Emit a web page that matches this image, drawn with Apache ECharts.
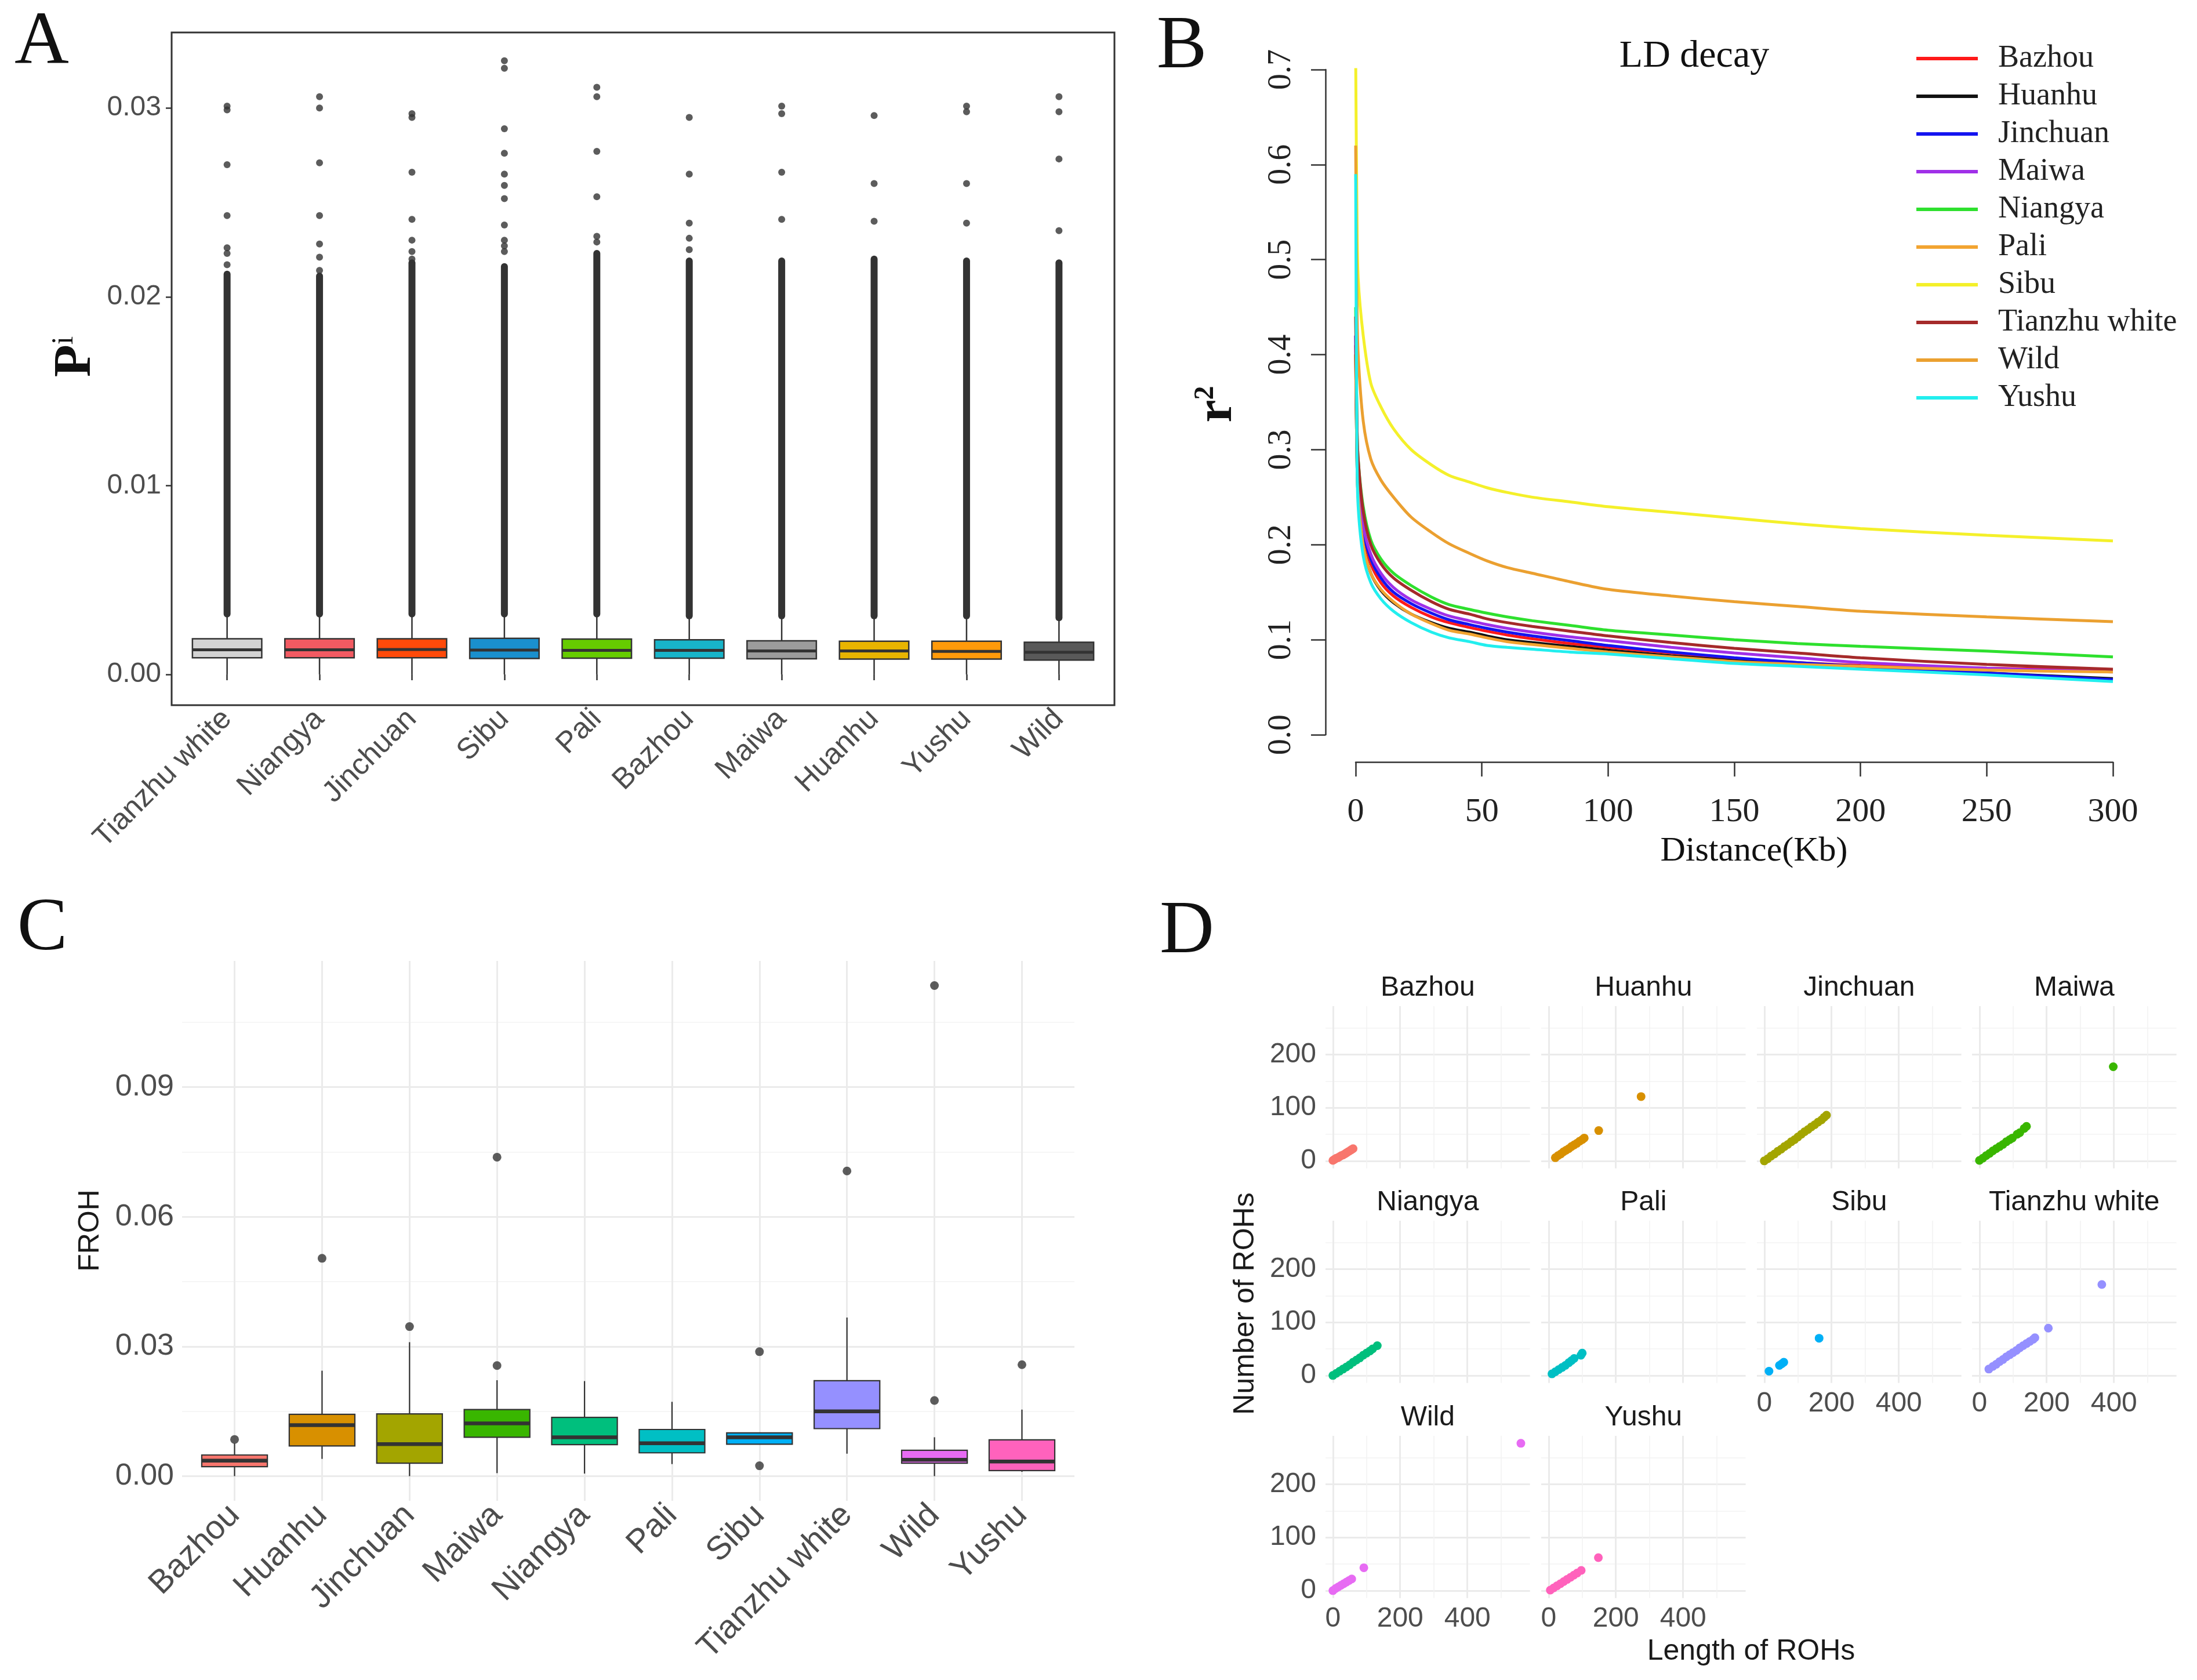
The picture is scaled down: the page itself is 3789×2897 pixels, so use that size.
<!DOCTYPE html>
<html>
<head>
<meta charset="utf-8">
<script src="https://cdn.jsdelivr.net/npm/echarts@6/dist/echarts.min.js"></script>
<style>
  html, body { margin: 0; padding: 0; background: #fff; }
  #main { width: 3789px; height: 2897px; }
</style>
</head>
<body>
<div id="main"></div>
<script>
// panel A - Pi boxplots
var catsA = ['Tianzhu white', 'Niangya', 'Jinchuan', 'Sibu', 'Pali', 'Bazhou', 'Maiwa', 'Huanhu', 'Yushu', 'Wild'];
var colorsA = ['#D3D3D3', '#F25A62', '#FF4A0A', '#1A90CE', '#66CC00', '#18B4C9', '#9C9C9C', '#E8B400', '#FF9A0A', '#595959'];
var piLow = [0, 0, 0, 0, 0, 0, 0, 0, 0, 0];
var piQ1 = [0.00088, 0.00088, 0.00088, 0.00084, 0.00086, 0.00086, 0.00083, 0.00081, 0.00081, 0.00076];
var piMed = [0.00130, 0.00130, 0.00132, 0.00129, 0.00127, 0.00127, 0.00124, 0.00124, 0.00122, 0.00117];
var piQ3 = [0.00189, 0.00189, 0.00189, 0.00191, 0.00187, 0.00183, 0.00178, 0.00176, 0.00176, 0.00170];
var piHigh = [0.0032, 0.0032, 0.0032, 0.0032, 0.0032, 0.0031, 0.0031, 0.0031, 0.0031, 0.0030];
var piDenseTop = [0.0212, 0.0211, 0.0218, 0.0216, 0.0223, 0.0219, 0.0219, 0.0220, 0.0219, 0.0218];
var piOutliers = [
  [0.0301, 0.0299, 0.0270, 0.0243, 0.0226, 0.0223, 0.0217],
  [0.0306, 0.0300, 0.0271, 0.0243, 0.0228, 0.0221, 0.0214],
  [0.0297, 0.0295, 0.0266, 0.0241, 0.0230, 0.0224, 0.0220],
  [0.0325, 0.0321, 0.0289, 0.0276, 0.0265, 0.0259, 0.0252, 0.0238, 0.0230, 0.0227, 0.0224],
  [0.0311, 0.0306, 0.0277, 0.0253, 0.0232, 0.0229],
  [0.0295, 0.0265, 0.0239, 0.0231, 0.0225],
  [0.0301, 0.0297, 0.0266, 0.0241],
  [0.0296, 0.0260, 0.0240],
  [0.0301, 0.0298, 0.0260, 0.0239],
  [0.0306, 0.0298, 0.0273, 0.0235]
];
var piTicks = [0, 0.01, 0.02, 0.03];

// panel B - LD decay
var ldNames = ['Bazhou', 'Huanhu', 'Jinchuan', 'Maiwa', 'Niangya', 'Pali', 'Sibu', 'Tianzhu white', 'Wild', 'Yushu'];
var ldColors = ['#FF1A1A', '#111111', '#1414F0', '#A030E8', '#2EE02E', '#F2A431', '#F4F02A', '#A52A2A', '#EBA030', '#22EEEE'];
var ldDist = [0, 0.5, 1, 3, 6, 10, 15, 22, 30, 37, 45, 52, 60, 70, 85, 100, 125, 150, 175, 200, 250, 300];
var ldBazhou = [0.41, 0.30, 0.26, 0.21, 0.18, 0.160, 0.146, 0.134, 0.124, 0.118, 0.113, 0.109, 0.105, 0.101, 0.096, 0.092, 0.086, 0.080, 0.076, 0.073, 0.070, 0.068];
var ldHuanhu = [0.40, 0.29, 0.25, 0.20, 0.17, 0.152, 0.139, 0.127, 0.118, 0.112, 0.108, 0.104, 0.100, 0.097, 0.093, 0.089, 0.083, 0.078, 0.074, 0.070, 0.065, 0.059];
var ldJinchuan = [0.42, 0.31, 0.27, 0.215, 0.185, 0.165, 0.150, 0.138, 0.128, 0.121, 0.116, 0.112, 0.108, 0.104, 0.099, 0.094, 0.087, 0.081, 0.076, 0.072, 0.065, 0.058];
var ldMaiwa = [0.42, 0.31, 0.27, 0.22, 0.19, 0.170, 0.155, 0.142, 0.132, 0.125, 0.120, 0.116, 0.112, 0.108, 0.103, 0.099, 0.092, 0.086, 0.081, 0.076, 0.070, 0.066];
var ldNiangya = [0.45, 0.33, 0.29, 0.24, 0.205, 0.185, 0.170, 0.157, 0.145, 0.137, 0.132, 0.128, 0.124, 0.120, 0.115, 0.110, 0.105, 0.100, 0.096, 0.093, 0.088, 0.082];
var ldPali = [0.40, 0.29, 0.25, 0.20, 0.17, 0.153, 0.140, 0.127, 0.117, 0.110, 0.106, 0.102, 0.098, 0.095, 0.091, 0.087, 0.082, 0.077, 0.074, 0.072, 0.068, 0.066];
var ldSibu = [0.715, 0.55, 0.48, 0.42, 0.37, 0.345, 0.322, 0.300, 0.284, 0.273, 0.266, 0.260, 0.255, 0.250, 0.245, 0.240, 0.234, 0.228, 0.222, 0.217, 0.210, 0.204];
var ldTianzhu = [0.44, 0.33, 0.29, 0.235, 0.20, 0.180, 0.165, 0.152, 0.140, 0.132, 0.127, 0.122, 0.118, 0.114, 0.109, 0.104, 0.097, 0.091, 0.086, 0.081, 0.074, 0.069];
var ldWild = [0.62, 0.46, 0.40, 0.33, 0.29, 0.268, 0.250, 0.229, 0.213, 0.201, 0.191, 0.183, 0.176, 0.170, 0.161, 0.153, 0.146, 0.140, 0.135, 0.130, 0.124, 0.119];
var ldYushu = [0.59, 0.30, 0.24, 0.188, 0.160, 0.143, 0.130, 0.118, 0.108, 0.102, 0.098, 0.094, 0.092, 0.090, 0.087, 0.085, 0.080, 0.075, 0.072, 0.069, 0.063, 0.056];
var ldValues = [ldBazhou, ldHuanhu, ldJinchuan, ldMaiwa, ldNiangya, ldPali, ldSibu, ldTianzhu, ldWild, ldYushu];

// panel C - FROH boxplots
var catsC = ['Bazhou', 'Huanhu', 'Jinchuan', 'Maiwa', 'Niangya', 'Pali', 'Sibu', 'Tianzhu white', 'Wild', 'Yushu'];
var colorsC = ['#F8766D', '#D89000', '#A3A500', '#39B600', '#00BF7D', '#00BFC4', '#00B0F6', '#9590FF', '#E76BF3', '#FF62BC'];
var frohLow = [0.0, 0.0040, 0.0, 0.0007, 0.0006, 0.0028, 0.0074, 0.0052, 0.0, 0.0010];
var frohQ1 = [0.0022, 0.0070, 0.0030, 0.0090, 0.0073, 0.0054, 0.0074, 0.0110, 0.0030, 0.0013];
var frohMed = [0.0036, 0.0118, 0.0074, 0.0122, 0.0090, 0.0076, 0.0090, 0.0150, 0.0038, 0.0034];
var frohQ3 = [0.0049, 0.0143, 0.0144, 0.0154, 0.0136, 0.0108, 0.0100, 0.0221, 0.0060, 0.0084];
var frohHigh = [0.0076, 0.0244, 0.0310, 0.0222, 0.0220, 0.0172, 0.0100, 0.0367, 0.0090, 0.0154];
var frohOut = [[0.0085], [0.0504], [0.0346], [0.0256, 0.0738], [], [], [0.0288, 0.0024], [0.0706], [0.0175, 0.1135], [0.0258]];
var frohTicks = [0, 0.03, 0.06, 0.09];
var frohMinor = [0.015, 0.045, 0.075, 0.105];

// panel D - ROH length vs number
var rohNames = ['Bazhou', 'Huanhu', 'Jinchuan', 'Maiwa', 'Niangya', 'Pali', 'Sibu', 'Tianzhu white', 'Wild', 'Yushu'];
var rohBazhou = [[0, 1], [5, 3], [10, 5], [15, 6], [20, 8], [25, 10], [30, 11], [35, 13], [40, 15], [45, 17], [50, 19], [55, 21], [60, 23]];
var rohHuanhu = [[20, 6], [28, 10], [36, 13], [44, 17], [52, 20], [60, 23], [68, 27], [76, 30], [84, 33], [92, 37], [100, 40], [106, 43], [149, 57], [275, 121]];
var rohJinchuan = [[0, 0], [10, 4], [20, 9], [30, 13], [40, 18], [50, 22], [60, 27], [70, 31], [80, 36], [90, 40], [100, 45], [110, 50], [120, 55], [130, 59], [140, 64], [150, 68], [160, 73], [170, 77], [178, 82], [185, 86]];
var rohMaiwa = [[0, 1], [10, 5], [20, 10], [30, 14], [40, 19], [50, 23], [60, 27], [70, 31], [80, 36], [90, 40], [98, 43], [112, 50], [120, 53], [133, 61], [140, 65], [398, 177]];
var rohNiangya = [[0, 0], [10, 4], [20, 8], [30, 12], [40, 16], [50, 20], [60, 25], [70, 29], [80, 33], [90, 38], [100, 42], [110, 46], [118, 50], [132, 56]];
var rohPali = [[10, 3], [20, 7], [30, 11], [40, 15], [50, 19], [60, 24], [68, 28], [76, 32], [96, 38], [100, 42]];
var rohSibu = [[14, 8], [45, 19], [52, 22], [58, 25], [163, 70]];
var rohTianzhu = [[28, 12], [40, 17], [50, 21], [60, 26], [70, 30], [80, 35], [90, 39], [100, 43], [110, 47], [120, 52], [130, 56], [140, 60], [150, 64], [160, 68], [165, 71], [205, 89], [364, 171]];
var rohWild = [[0, 0], [8, 4], [16, 7], [24, 10], [32, 13], [40, 16], [48, 19], [56, 22], [92, 43], [559, 277]];
var rohYushu = [[5, 1], [15, 5], [25, 9], [35, 13], [45, 17], [55, 21], [65, 25], [75, 29], [85, 33], [97, 38], [148, 62]];
var rohData = [rohBazhou, rohHuanhu, rohJinchuan, rohMaiwa, rohNiangya, rohPali, rohSibu, rohTianzhu, rohWild, rohYushu];
var rohXTicks = [0, 200, 400];
var rohXMinor = [100, 300, 500];
var rohYTicks = [0, 100, 200];
var rohYMinor = [50, 150, 250];

var SANS = 'Liberation Sans';
var SERIF = 'Liberation Serif';
var idx10 = [1, 2, 3, 4, 5, 6, 7, 8, 9, 10];

var chart = echarts.init(document.getElementById('main'), null, { renderer: 'canvas' });

function boxItem(lowArr, q1Arr, medArr, q3Arr, highArr, colors) {
  return idx10.map(function (x, i) {
    return { value: [x, lowArr[i], q1Arr[i], medArr[i], q3Arr[i], highArr[i]], itemStyle: { color: colors[i] } };
  });
}

function boxRender(lw, medLw) {
  return function (params, api) {
    var x = api.value(0);
    var lo = api.coord([x, api.value(1)]);
    var q1 = api.coord([x, api.value(2)]);
    var md = api.coord([x, api.value(3)]);
    var q3 = api.coord([x, api.value(4)]);
    var hi = api.coord([x, api.value(5)]);
    var half = api.size([0.75, 0])[0] / 2;
    var stroke = '#333333';
    return {
      type: 'group',
      children: [
        { type: 'line', shape: { x1: lo[0], y1: lo[1], x2: q1[0], y2: q1[1] }, style: { stroke: stroke, lineWidth: lw } },
        { type: 'line', shape: { x1: q3[0], y1: q3[1], x2: hi[0], y2: hi[1] }, style: { stroke: stroke, lineWidth: lw } },
        { type: 'rect', shape: { x: q1[0] - half, y: q3[1], width: half * 2, height: q1[1] - q3[1] },
          style: { fill: api.visual('color'), stroke: stroke, lineWidth: lw } },
        { type: 'line', shape: { x1: md[0] - half, y1: md[1], x2: md[0] + half, y2: md[1] }, style: { stroke: stroke, lineWidth: medLw } }
      ]
    };
  };
}

// grids: 0 A frame, 1 B data, 2 B y-axis strip, 3 B x-axis strip, 4 C, 5.. D facets
var grids = [
  { left: 296, top: 56, width: 1626, height: 1160, show: true, borderColor: '#333', borderWidth: 3 },
  { left: 2338, top: 120, width: 1306, height: 1147 },
  { left: 2286, top: 120, width: 8, height: 1147 },
  { left: 2338, top: 1306, width: 1306, height: 8 },
  { left: 314, top: 1657, width: 1539, height: 931 }
];
var facetLeft = [2286, 2658, 3030, 3401];
var facetTop = [1735, 2105, 2476];
var facetW = 352.6, facetH = 279.7;
rohNames.forEach(function (n, i) {
  grids.push({ left: facetLeft[i % 4], top: facetTop[Math.floor(i / 4)], width: facetW, height: facetH });
});

var tickLine = { color: '#333', width: 2.5 };
var gridMajor = { color: '#EBEBEB', width: 3 };
var gridMinor = { color: '#F3F3F3', width: 1.6 };
var hidden = { show: false };
var baseAxis = { '0': 1 };

function hiddenAxis(g, min, max) {
  return { gridIndex: g, type: 'value', min: min, max: max, show: false, splitLine: hidden };
}

var xAxes = [
  {
    gridIndex: 0, type: 'value', min: 0.4, max: 10.6,
    axisLine: hidden,
    axisTick: { show: true, customValues: idx10, length: 10, lineStyle: tickLine },
    axisLabel: { customValues: idx10, formatter: function (v) { return catsA[Math.round(v) - 1]; },
      rotate: 45, margin: 16, fontSize: 51, color: '#4D4D4D', fontFamily: SANS },
    splitLine: hidden
  },
  hiddenAxis(1, 0, 300),
  hiddenAxis(2, 0, 1),
  {
    gridIndex: 3, type: 'value', min: 0, max: 300, interval: 50,
    axisLine: { show: true, lineStyle: { color: '#333', width: 2.5 } },
    axisTick: { show: true, length: 25, lineStyle: { color: '#333', width: 2.5 } },
    axisLabel: { margin: 58, fontSize: 58, color: '#222', fontFamily: SERIF },
    splitLine: hidden
  },
  {
    gridIndex: 4, type: 'value', min: 0.4, max: 10.6,
    axisLine: hidden,
    axisTick: { show: false, customValues: idx10 },
    axisLabel: { customValues: idx10, formatter: function (v) { return catsC[Math.round(v) - 1]; },
      rotate: 45, margin: 16, fontSize: 57, color: '#4D4D4D', fontFamily: SANS },
    splitLine: { show: true, lineStyle: gridMajor }
  }
];
var yAxes = [
  {
    gridIndex: 0, type: 'value', min: -0.00163, max: 0.034,
    axisLine: hidden,
    axisTick: { show: true, customValues: piTicks, length: 10, lineStyle: tickLine },
    axisLabel: { customValues: piTicks, formatter: function (v) { return v.toFixed(2); },
      margin: 18, fontSize: 48, color: '#4D4D4D', fontFamily: SANS },
    splitLine: hidden
  },
  hiddenAxis(1, 0, 0.7),
  {
    gridIndex: 2, type: 'value', min: 0, max: 0.7, interval: 0.1,
    axisLine: { show: true, lineStyle: { color: '#333', width: 2.5 } },
    axisTick: { show: true, length: 25, lineStyle: { color: '#333', width: 2.5 } },
    axisLabel: { rotate: 90, margin: 48, fontSize: 56, color: '#222', fontFamily: SERIF,
      formatter: function (v) { return v.toFixed(1); } },
    splitLine: hidden
  },
  hiddenAxis(3, 0, 1),
  {
    gridIndex: 4, type: 'value', min: -0.0057, max: 0.1192,
    axisLine: hidden,
    axisTick: { show: false, customValues: frohTicks },
    axisLabel: { customValues: frohTicks, formatter: function (v) { return v.toFixed(2); },
      margin: 14, fontSize: 52, color: '#4D4D4D', fontFamily: SANS },
    splitLine: { show: true, lineStyle: gridMajor }
  },
  {
    gridIndex: 4, type: 'value', position: 'right', min: -0.0057, max: 0.1192,
    axisLine: hidden,
    axisTick: { show: false, customValues: frohMinor },
    axisLabel: hidden,
    splitLine: { show: true, lineStyle: gridMinor }
  }
];

var series = [];

// A: dense outlier column, boxes, sparse outliers
series.push({
  type: 'custom', xAxisIndex: 0, yAxisIndex: 0, z: 3,
  renderItem: function (params, api) {
    var x = api.value(0);
    var a = api.coord([x, api.value(2)]);
    var b = api.coord([x, api.value(1)]);
    return { type: 'rect', shape: { x: a[0] - 6, y: a[1] - 6, width: 12, height: b[1] - a[1] + 12, r: 6 },
      style: { fill: '#333333' } };
  },
  encode: { x: 0, y: [1, 2] },
  data: idx10.map(function (x, i) { return [x, piHigh[i], piDenseTop[i]]; })
});
series.push({
  type: 'custom', xAxisIndex: 0, yAxisIndex: 0, z: 4,
  renderItem: boxRender(2.5, 5),
  encode: { x: 0, y: [1, 2, 3, 4, 5] },
  data: boxItem(piLow, piQ1, piMed, piQ3, piHigh, colorsA)
});
var piPts = [];
piOutliers.forEach(function (arr, i) { arr.forEach(function (v) { piPts.push([i + 1, v]); }); });
series.push({
  type: 'scatter', xAxisIndex: 0, yAxisIndex: 0, symbolSize: 12, z: 3,
  itemStyle: { color: '#333333' }, data: piPts
});

// B
ldNames.forEach(function (name, i) {
  series.push({
    name: name, type: 'line', xAxisIndex: 1, yAxisIndex: 1,
    smooth: 0.3, showSymbol: false, symbol: 'none',
    lineStyle: { color: ldColors[i], width: 5 }, itemStyle: { color: ldColors[i] },
    data: ldDist.map(function (d, k) { return [d, ldValues[i][k]]; })
  });
});

// C
series.push({
  type: 'custom', xAxisIndex: 4, yAxisIndex: 4, z: 4,
  renderItem: boxRender(2.2, 6.5),
  encode: { x: 0, y: [1, 2, 3, 4, 5] },
  data: boxItem(frohLow, frohQ1, frohMed, frohQ3, frohHigh, colorsC)
});
var frohPts = [];
frohOut.forEach(function (arr, i) { arr.forEach(function (v) { frohPts.push([i + 1, v]); }); });
series.push({
  type: 'scatter', xAxisIndex: 4, yAxisIndex: 4, symbolSize: 15, z: 5,
  itemStyle: { color: '#333333' }, data: frohPts
});

// D facets
var graphics = [];
rohNames.forEach(function (name, i) {
  var g = 5 + i;
  var col = i % 4, row = Math.floor(i / 4);
  var showX = (i >= 6);
  var showY = (col === 0);
  var xi = xAxes.length, yi = yAxes.length;
  xAxes.push({
    gridIndex: g, type: 'value', min: -22, max: 586,
    axisLine: hidden,
    axisTick: { show: false, customValues: rohXTicks },
    axisLabel: { show: showX, customValues: rohXTicks, margin: 12, fontSize: 48, color: '#4D4D4D', fontFamily: SANS },
    splitLine: { show: true, lineStyle: gridMajor }
  });
  xAxes.push({
    gridIndex: g, type: 'value', position: 'top', min: -22, max: 586,
    axisLine: hidden,
    axisTick: { show: false, customValues: rohXMinor },
    axisLabel: hidden,
    splitLine: { show: true, lineStyle: gridMinor }
  });
  yAxes.push({
    gridIndex: g, type: 'value', min: -14, max: 291,
    axisLine: hidden,
    axisTick: { show: false, customValues: rohYTicks },
    axisLabel: { show: showY, customValues: rohYTicks, margin: 16, fontSize: 48, color: '#4D4D4D', fontFamily: SANS },
    splitLine: { show: true, lineStyle: gridMajor }
  });
  yAxes.push({
    gridIndex: g, type: 'value', position: 'right', min: -14, max: 291,
    axisLine: hidden,
    axisTick: { show: false, customValues: rohYMinor },
    axisLabel: hidden,
    splitLine: { show: true, lineStyle: gridMinor }
  });
  series.push({
    type: 'scatter', xAxisIndex: xi, yAxisIndex: yi, symbolSize: 15, z: 5,
    itemStyle: { color: colorsC[i], opacity: 1 }, data: rohData[i]
  });
  graphics.push({
    type: 'text', x: facetLeft[col] + facetW / 2, y: facetTop[row] - 31,
    style: { text: name, font: '48px "' + SANS + '"', fill: '#1A1A1A', align: 'center', verticalAlign: 'middle',
      textAlign: 'center', textVerticalAlign: 'middle' }
  });
});

function label(x, y, text, font, rot, fill) {
  return {
    type: 'text', x: x, y: y, rotation: rot || 0,
    style: { text: text, font: font, fill: fill || '#111', align: 'center', verticalAlign: 'middle',
      textAlign: 'center', textVerticalAlign: 'middle' }
  };
}
graphics.push(label(72, 75, 'A', '130px "' + SERIF + '"'));
graphics.push(label(2038, 82, 'B', '130px "' + SERIF + '"'));
graphics.push(label(73, 1603, 'C', '130px "' + SERIF + '"'));
graphics.push(label(2047, 1608, 'D', '130px "' + SERIF + '"'));
graphics.push(label(2922, 98, 'LD decay', '66px "' + SERIF + '"'));
graphics.push(label(3025, 1468, 'Distance(Kb)', '60px "' + SERIF + '"'));
graphics.push(label(156, 2122, 'FROH', '50px "' + SANS + '"', Math.PI / 2, '#1A1A1A'));
graphics.push(label(2148, 2248, 'Number of ROHs', '50px "' + SANS + '"', Math.PI / 2, '#1A1A1A'));
graphics.push(label(3020, 2848, 'Length of ROHs', '50px "' + SANS + '"', 0, '#1A1A1A'));
graphics.push({
  type: 'text', x: 131, y: 615, rotation: Math.PI / 2,
  style: { text: '{a|P}{b|i}', align: 'center', verticalAlign: 'middle', textAlign: 'center', textVerticalAlign: 'middle',
    rich: { a: { font: 'bold 92px "' + SERIF + '"', fill: '#111' }, b: { font: '52px "' + SERIF + '"', fill: '#111', verticalAlign: 'top' } } }
});
graphics.push({
  type: 'text', x: 2100, y: 697, rotation: Math.PI / 2,
  style: { text: '{a|r}{b|2}', align: 'center', verticalAlign: 'middle', textAlign: 'center', textVerticalAlign: 'middle',
    rich: { a: { font: 'bold 88px "' + SERIF + '"', fill: '#111' }, b: { font: 'bold 48px "' + SERIF + '"', fill: '#111', verticalAlign: 'top' } } }
});

var option = {
  backgroundColor: '#ffffff',
  animation: false,
  grid: grids,
  xAxis: xAxes,
  yAxis: yAxes,
  legend: {
    orient: 'vertical', left: 3300, top: 69, itemWidth: 106, itemHeight: 6, itemGap: 11,
    icon: 'rect', selectedMode: false, data: ldNames,
    textStyle: { fontFamily: SERIF, fontSize: 54, lineHeight: 54, color: '#222', padding: [0, 0, 0, 30] }
  },
  graphic: { elements: graphics },
  series: series
};
chart.setOption(option);
</script>
</body>
</html>
